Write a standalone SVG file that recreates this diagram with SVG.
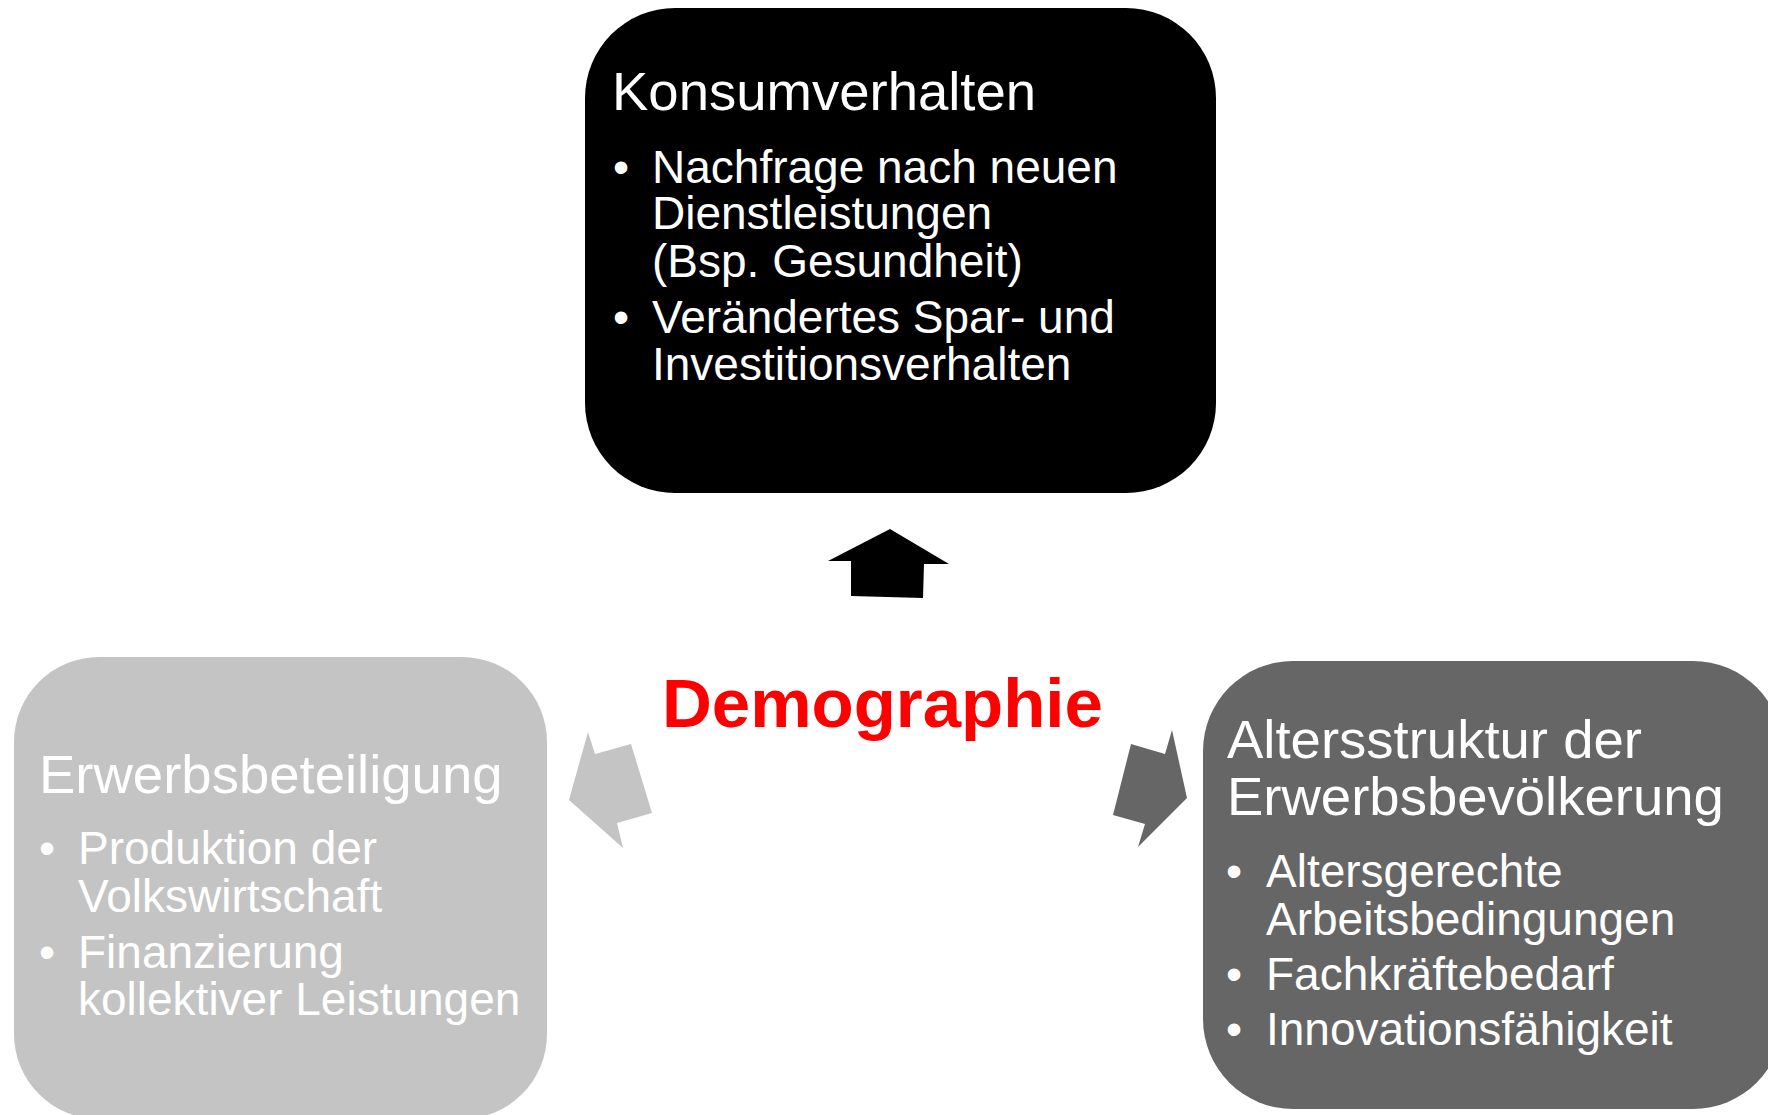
<svg xmlns="http://www.w3.org/2000/svg" width="1768" height="1115" viewBox="0 0 1768 1115">
  <style>
    text { font-family: "Liberation Sans", Arial, sans-serif; fill: #ffffff; }
    .title { font-size: 54.5px; }
    .item { font-size: 46px; }
    .center { font-size: 69px; font-weight: bold; fill: #ff0000; }
  </style>
  <rect width="1768" height="1115" fill="#ffffff"/>

  <!-- Konsumverhalten -->
  <g id="node-konsum">
    <rect x="585" y="8" width="631" height="485" rx="90" ry="90" fill="#000000"/>
    <text class="title" x="612" y="110">Konsumverhalten</text>
    <text class="item" x="613" y="183">•</text>
    <text class="item" x="652" y="183">Nachfrage nach neuen</text>
    <text class="item" x="652" y="229">Dienstleistungen</text>
    <text class="item" x="652" y="277">(Bsp. Gesundheit)</text>
    <text class="item" x="613" y="333">•</text>
    <text class="item" x="652" y="333">Verändertes Spar- und</text>
    <text class="item" x="652" y="380">Investitionsverhalten</text>
  </g>

  <!-- Erwerbsbeteiligung -->
  <g id="node-erwerb">
    <rect x="14" y="657" width="533" height="462" rx="85" ry="85" fill="#c4c4c4"/>
    <text class="title" x="39" y="793">Erwerbsbeteiligung</text>
    <text class="item" x="39" y="864">•</text>
    <text class="item" x="78" y="864">Produktion der</text>
    <text class="item" x="78" y="912">Volkswirtschaft</text>
    <text class="item" x="39" y="968">•</text>
    <text class="item" x="78" y="968">Finanzierung</text>
    <text class="item" x="78" y="1015">kollektiver Leistungen</text>
  </g>

  <!-- Altersstruktur der Erwerbsbevölkerung -->
  <g id="node-alter">
    <rect x="1203" y="661" width="580" height="448" rx="90" ry="90" fill="#666666"/>
    <text class="title" x="1227" y="758">Altersstruktur der</text>
    <text class="title" x="1227" y="815">Erwerbsbevölkerung</text>
    <text class="item" x="1226" y="887">•</text>
    <text class="item" x="1266" y="887">Altersgerechte</text>
    <text class="item" x="1266" y="935">Arbeitsbedingungen</text>
    <text class="item" x="1226" y="990">•</text>
    <text class="item" x="1266" y="990">Fachkräftebedarf</text>
    <text class="item" x="1226" y="1045">•</text>
    <text class="item" x="1266" y="1045">Innovationsfähigkeit</text>
  </g>

  <!-- Demographie -->
  <g id="node-demographie">
    <text class="center" x="662" y="727">Demographie</text>
  </g>

  <!-- block arrows -->
  <g id="connectors">
    <polygon points="890,529 949,564 924,564 923,598 851,596 851,561 828,561" fill="#000000"/>
    <polygon points="588,732 595,754 631,744 652,813 617,823 623,848 569,800" fill="#c4c4c4"/>
    <polygon points="1172,730 1187,798 1138,847 1145,824 1113,815 1131,744 1165,754" fill="#666666"/>
  </g>
</svg>
